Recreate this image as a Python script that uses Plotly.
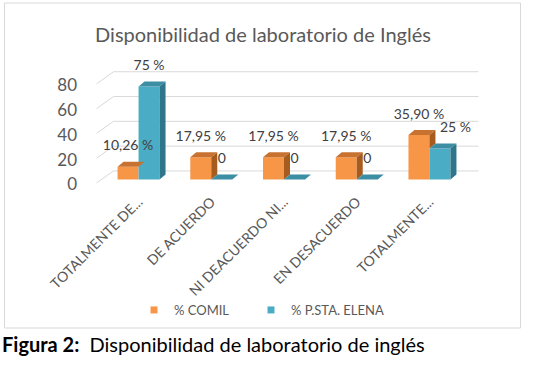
import plotly.graph_objects as go

# ---------------- data ----------------
categories = ["TOTALMENTE DE...", "DE ACUERDO", "NI DEACUERDO NI...", "EN DESACUERDO", "TOTALMENTE..."]
comil = [10.26, 17.95, 17.95, 17.95, 35.90]
comil_labels = ["10,26 %", "17,95 %", "17,95 %", "17,95 %", "35,90 %"]
elena = [75, 0, 0, 0, 25]
elena_labels = ["75 %", "0", "0", "0", "25 %"]
y_ticks = [0, 20, 40, 60, 80]
series_names = ["% COMIL", "% P.STA. ELENA"]
title_text = "Disponibilidad de laboratorio de Inglés"
caption_text = "<b>Figura 2:</b>\u00a0 Disponibilidad de laboratorio de inglés"

# ---------------- style / geometry ----------------
FONT = "Lato"
GREY = "#595959"
ORANGE = dict(front="#F79646", top="#C77230", side="#A65B1F")
BLUE = dict(front="#4BACC6", top="#3C8EA4", side="#30768A")
W, H = 544, 370
ML, MR, MT, MB = 84, 60, 60, 180
XR = [-0.75, 4.75]
YR = [-8.47, 96.37]
BW = 0.2887          # bar width (x units)
DX, DY = 0.0825, 4.0  # 3D depth offsets
GRID_FRONT_X, GRID_BACK_X, GRID_RIGHT_X = -0.577, -0.344, 4.674
GRID_FRONT_DY, GRID_BACK_DY = -2.8, 6.9
LABEL_DY = 16.0
TICK_DY = -4.0
BLUE_LABEL_POS = ["middle center", "middle center", "middle center", "middle center", "middle right"]

xs = list(range(len(categories)))
fig = go.Figure()

# back-wall gridlines (perspective), drawn below the bars
grid_shapes = []
for v in y_ticks:
    path = "M {},{} L {},{} L {},{}".format(GRID_FRONT_X, v + GRID_FRONT_DY, GRID_BACK_X, v + GRID_BACK_DY,
                                           GRID_RIGHT_X, v + GRID_BACK_DY)
    grid_shapes.append(dict(type="path", xref="x", yref="y", path=path, layer="below",
                            line=dict(color="#D9D9D9", width=1)))

# front faces as real bars
fig.add_trace(go.Bar(x=xs, y=comil, width=BW, offset=-BW, marker=dict(color=ORANGE["front"], line=dict(width=0)),
                     name=series_names[0], showlegend=False))
fig.add_trace(go.Bar(x=xs, y=elena, width=BW, offset=0, marker=dict(color=BLUE["front"], line=dict(width=0)),
                     name=series_names[1], showlegend=False))

# data labels (drawn before the side faces so bars can hide them)
fig.add_trace(go.Scatter(x=[i - BW / 2 for i in xs], y=[v + LABEL_DY for v in comil], mode="text",
                         text=comil_labels, textfont=dict(family=FONT, size=14, color="#404040"),
                         cliponaxis=False, hoverinfo="skip", showlegend=False))
fig.add_trace(go.Scatter(x=[i + BW / 2 for i in xs], y=[v + LABEL_DY for v in elena], mode="text",
                         text=elena_labels, textposition=BLUE_LABEL_POS,
                         textfont=dict(family=FONT, size=14, color="#404040"),
                         cliponaxis=False, hoverinfo="skip", showlegend=False))


def poly(px, py, color):
    fig.add_trace(go.Scatter(x=px + [px[0]], y=py + [py[0]], mode="lines", fill="toself",
                             fillcolor=color, line=dict(width=0, color=color),
                             hoverinfo="skip", showlegend=False))


for i, (a, b) in enumerate(zip(comil, elena)):
    # orange top + visible side
    x0, x1 = i - BW, i
    poly([x0, x1, x1 + DX, x0 + DX], [a, a, a + DY, a + DY], ORANGE["top"])
    low = min(a, b)
    poly([x1, x1 + DX, x1 + DX, x1], [low, low + DY, a + DY, a], ORANGE["side"])
    # blue top + side
    x0, x1 = i, i + BW
    poly([x0, x1, x1 + DX, x0 + DX], [b, b, b + DY, b + DY], BLUE["top"])
    if b > 0:
        poly([x1, x1 + DX, x1 + DX, x1], [0, DY, b + DY, b], BLUE["side"])

# legend entries (one legend each so they can be placed like the original)
fig.add_trace(go.Scatter(x=[None], y=[None], mode="markers", name=series_names[0], legend="legend",
                         marker=dict(symbol="square", size=7, color=ORANGE["front"])))
fig.add_trace(go.Scatter(x=[None], y=[None], mode="markers", name=series_names[1], legend="legend2",
                         marker=dict(symbol="square", size=7, color=BLUE["front"])))

PW, PH = W - ML - MR, H - MT - MB


def px2paper_x(p):
    return (p - ML) / PW


def px2paper_y(p):
    return (H - MB - p) / PH


legend_style = dict(orientation="h", xanchor="left", yanchor="middle", y=px2paper_y(310),
                    font=dict(family=FONT, size=13, color=GREY), bgcolor="rgba(0,0,0,0)")

frame = dict(type="rect", xref="paper", yref="paper", x0=px2paper_x(4.5), x1=px2paper_x(520.5),
             y0=px2paper_y(328), y1=px2paper_y(3), line=dict(color="#D9D9D9", width=1), layer="below")

fig.update_layout(
    width=W, height=H, margin=dict(l=ML, r=MR, t=MT, b=MB),
    paper_bgcolor="white", plot_bgcolor="white",
    barmode="overlay",
    title=dict(text=title_text, x=263 / W, xanchor="center", y=1 - 35 / H, yanchor="middle",
               font=dict(family=FONT, size=20, color=GREY)),
    xaxis=dict(range=XR, tickvals=xs, ticktext=categories, tickangle=-45, showgrid=False,
               zeroline=False, showline=False, ticks="", tickfont=dict(family=FONT, size=14, color=GREY)),
    yaxis=dict(range=YR, tickvals=[v + TICK_DY for v in y_ticks], ticktext=[str(v) for v in y_ticks],
               showgrid=False, zeroline=False, showline=False, ticks="", ticklabelstandoff=6,
               tickfont=dict(family=FONT, size=17, color=GREY)),
    legend=dict(x=px2paper_x(134), **legend_style),
    legend2=dict(x=px2paper_x(251), **legend_style),
    shapes=[frame] + grid_shapes,
    annotations=[dict(text=caption_text, xref="paper", yref="paper", x=px2paper_x(0), xanchor="left",
                      y=px2paper_y(344), yanchor="middle", showarrow=False,
                      font=dict(family=FONT, size=20, color="black"))],
)

fig.write_html("out.html", config={"displayModeBar": False},
               post_script="document.body.style.margin='0';")
